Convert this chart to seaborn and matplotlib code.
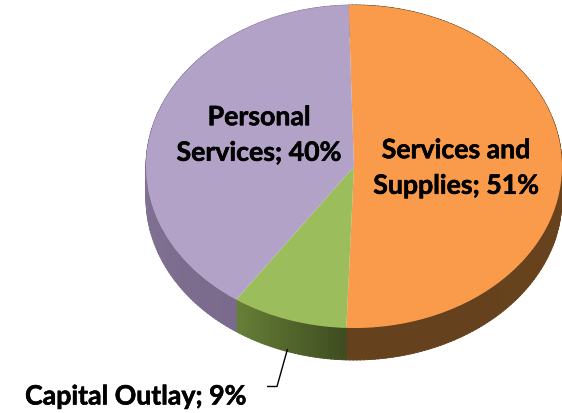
import numpy as np
import matplotlib
matplotlib.use("Agg")
import matplotlib.pyplot as plt
import matplotlib.patheffects as pe
from matplotlib.colors import to_rgb
from matplotlib.patches import Polygon
import seaborn as sns

# Budget shares, clockwise from the top of the pie
categories = ["Services and\nSupplies", "Capital Outlay", "Personal\nServices"]
shares = [51, 9, 40]
top_colors = ["#F99B4B", "#9CBD5B", "#B3A2C8"]
# Rim shades: (start of slice, end of slice) going clockwise
rim_colors = [("#6A431C", "#65411D"), ("#3F4D20", "#667F38"), ("#7A6A8C", "#8B7C9E")]

W, H = 562, 414
CX, CY, RX, RY, DEPTH = 354.0, 167.5, 208.0, 161.5, 32.0
START = 91.5

sns.set_theme(style="white")
plt.rcParams["font.family"] = ["Lato", "DejaVu Sans"]

fig = plt.figure(figsize=(W / 100, H / 100), dpi=100)
ax = fig.add_axes([0, 0, 1, 1])

# Rim first, built from thin slices so its shade can vary along the arc
fractions = np.array(shares) / sum(shares)
edges = START - 360 * np.concatenate([[0], np.cumsum(fractions)])
for i in range(len(shares)):
    a0, a1 = edges[i], edges[i + 1]
    steps = np.linspace(a0, a1, max(int(abs(a1 - a0)), 2) + 1)
    c0, c1 = map(np.array, map(to_rgb, rim_colors[i]))
    for j in range(len(steps) - 1):
        angles = np.radians(np.linspace(steps[j], steps[j + 1] - 0.3, 3))
        xs = CX + RX * np.cos(angles)
        ys = CY - RY * np.sin(angles)
        poly = np.vstack([np.column_stack([xs, ys]),
                          np.column_stack([xs, ys + DEPTH])[::-1]])
        t = j / max(len(steps) - 2, 1)
        ax.add_patch(Polygon(poly, closed=True, lw=0.6,
                             fc=c0 + (c1 - c0) * t, ec=c0 + (c1 - c0) * t))

# Top face: pixel-like data limits stretch the unit pie into an ellipse
wedges, _ = ax.pie(shares, colors=top_colors, startangle=START, counterclock=False,
                   center=(0, 0), radius=1, wedgeprops={"linewidth": 0})
ax.set_aspect("auto")
ax.axis("off")
ax.set_xlim(0, W)
ax.set_ylim(H, 0)
for w in wedges:
    w.set_transform(matplotlib.transforms.Affine2D().scale(RX, -RY).translate(CX, CY) + ax.transData)

label_style = dict(ha="center", va="center", fontweight="bold", color="black",
                   fontsize=19.2, linespacing=1.58,
                   path_effects=[pe.withStroke(linewidth=0.4, foreground="black")])
ax.text(456, 169, f"{categories[0]}; {shares[0]}%", **label_style)
ax.text(259, 136, f"{categories[2]}; {shares[2]}%", **label_style)
ax.text(135.5, 397.5, f"{categories[1]}; {shares[1]}%", **label_style)

# Leader from the label up to the green slice's rim
ax.plot([267, 277, 287.5], [387.5, 387.5, 350], color="black", lw=1.0,
        solid_capstyle="butt", solid_joinstyle="round")

fig.savefig("out.png", dpi=100, facecolor="white")
